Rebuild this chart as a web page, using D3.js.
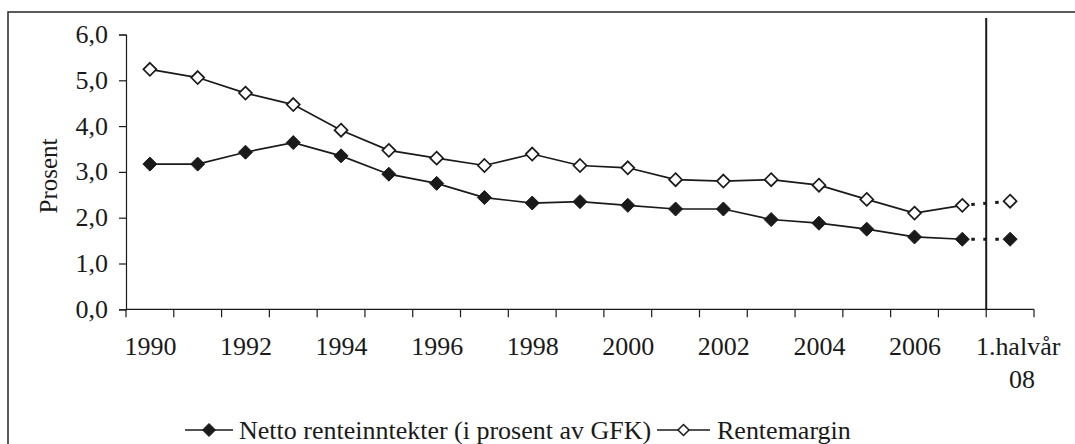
<!DOCTYPE html>
<html><head><meta charset="utf-8">
<script src="https://cdn.jsdelivr.net/npm/d3@7"></script>
<style>body{margin:0;background:#fff}svg{display:block}text{font-family:"Liberation Serif","Times New Roman",serif;fill:#1a1a1a}</style>
</head><body><svg id="c" width="1075" height="444"></svg>
<script>
const categories = ["1990","1991","1992","1993","1994","1995","1996","1997","1998","1999","2000","2001","2002","2003","2004","2005","2006","2007","1.halvår 08"];
const tickLabels = {"1990":"1990","1992":"1992","1994":"1994","1996":"1996","1998":"1998","2000":"2000","2002":"2002","2004":"2004","2006":"2006","1.halvår 08":["1.halvår","08"]};
const netto = [3.17,3.17,3.43,3.64,3.35,2.95,2.75,2.44,2.32,2.35,2.27,2.19,2.19,1.96,1.88,1.75,1.58,1.53,1.53];
const rentemargin = [5.24,5.06,4.72,4.47,3.91,3.47,3.30,3.14,3.39,3.14,3.09,2.83,2.80,2.83,2.71,2.40,2.10,2.27,2.36];
const yTicks = [0,1,2,3,4,5,6];
const seriesNames = ["Netto renteinntekter (i prosent av GFK)","Rentemargin"];
const yTitle = "Prosent";

const svg = d3.select("#c");
const ink = "#1a1a1a";
const FS = 25, SX = 1.04;
const L = 126, R = 1034, T = 34.5, B = 309.3;
const x = d3.scaleBand().domain(categories).range([L, R]).padding(0);
const y = d3.scaleLinear().domain([0, 6]).range([B, T]);

function label(g, tx, ty, s, anchor){
  return g.append("text").attr("transform",`translate(${tx},${ty}) scale(${SX},1)`)
    .attr("text-anchor", anchor||"start").attr("font-size",FS).text(s);
}

// outer border
svg.append("rect").attr("x",8).attr("y",12).attr("width",1100).attr("height",500)
  .attr("fill","none").attr("stroke","#333").attr("stroke-width",1.6);

// y axis
const yAxis = d3.axisLeft(y).tickValues(yTicks).tickSize(7).tickFormat("");
const gy = svg.append("g").attr("transform",`translate(${L},0)`).call(yAxis);
gy.select(".domain").attr("stroke",ink).attr("stroke-width",1.2);
gy.selectAll(".tick line").attr("stroke",ink).attr("stroke-width",1.2);
const fmt = d => d3.format(".1f")(d).replace(".", ",");
yTicks.forEach(v => label(svg, 108, y(v) + 8.5, fmt(v), "end"));

// x axis with ticks at band boundaries
const gx = svg.append("g").attr("transform",`translate(0,${B})`);
gx.append("line").attr("x1",L).attr("x2",R).attr("stroke",ink).attr("stroke-width",1.2);
const bounds = categories.map(c => x(c)).concat([x(categories[categories.length-1]) + x.bandwidth()]);
gx.selectAll(".tk").data(bounds).join("line").attr("class","tk")
  .attr("x1",d=>d).attr("x2",d=>d).attr("y1",0).attr("y2",8).attr("stroke",ink).attr("stroke-width",1.2);
categories.filter(c => tickLabels[c]).forEach(c => {
  const v = tickLabels[c];
  const cxp = x(c) + x.bandwidth()/2;
  if (Array.isArray(v)) {
    label(svg, cxp + 8, 355, v[0], "middle");
    label(svg, cxp + 12, 388, v[1], "middle");
  } else label(svg, cxp + 0.5, 355, v, "middle");
});

// y title
svg.append("text").attr("transform","translate(57,176) rotate(-90)").attr("text-anchor","middle")
  .attr("font-size",FS).text(yTitle);

// separator vertical line
const xSep = x(categories[categories.length-1]);
svg.append("line").attr("x1",xSep).attr("x2",xSep).attr("y1",18).attr("y2",B).attr("stroke",ink).attr("stroke-width",2);

function diamond(r){ return `M0,${-r}L${r},0L0,${r}L${-r},0Z`; }
const cx = c => x(c) + x.bandwidth()/2;
const n = categories.length;
function drawSeries(vals, filled){
  const pts = categories.map((c,i)=>[cx(c), y(vals[i])]);
  const line = d3.line();
  svg.append("path").attr("d", line(pts.slice(0, n-1))).attr("fill","none").attr("stroke",ink).attr("stroke-width",1.7);
  svg.append("path").attr("d", line(pts.slice(n-2))).attr("fill","none").attr("stroke",ink)
    .attr("stroke-width",3).attr("stroke-dasharray","3.5,8.5").attr("stroke-dashoffset",-9);
  svg.append("g").selectAll("path").data(pts).join("path")
    .attr("transform", d=>`translate(${d[0]},${d[1]})`)
    .attr("d", filled ? diamond(7) : diamond(6.5))
    .attr("fill", filled ? ink : "#fff").attr("stroke", ink).attr("stroke-width", filled ? 1 : 1.7);
}
drawSeries(rentemargin, false);
drawSeries(netto, true);

// legend
const ly = 430;
const leg = [{x0:185, x1:233, tx:239, filled:true, name:seriesNames[0]},{x0:657, x1:710, tx:717, filled:false, name:seriesNames[1]}];
leg.forEach(l=>{
  svg.append("line").attr("x1",l.x0).attr("x2",l.x1).attr("y1",ly).attr("y2",ly).attr("stroke",ink).attr("stroke-width",1.7);
  svg.append("path").attr("transform",`translate(${(l.x0+l.x1)/2},${ly})`).attr("d", l.filled?diamond(6.5):diamond(5.5))
    .attr("fill", l.filled?ink:"#fff").attr("stroke",ink).attr("stroke-width", l.filled?1:1.5);
  label(svg, l.tx, ly + 8.5, l.name, "start");
});
</script></body></html>
